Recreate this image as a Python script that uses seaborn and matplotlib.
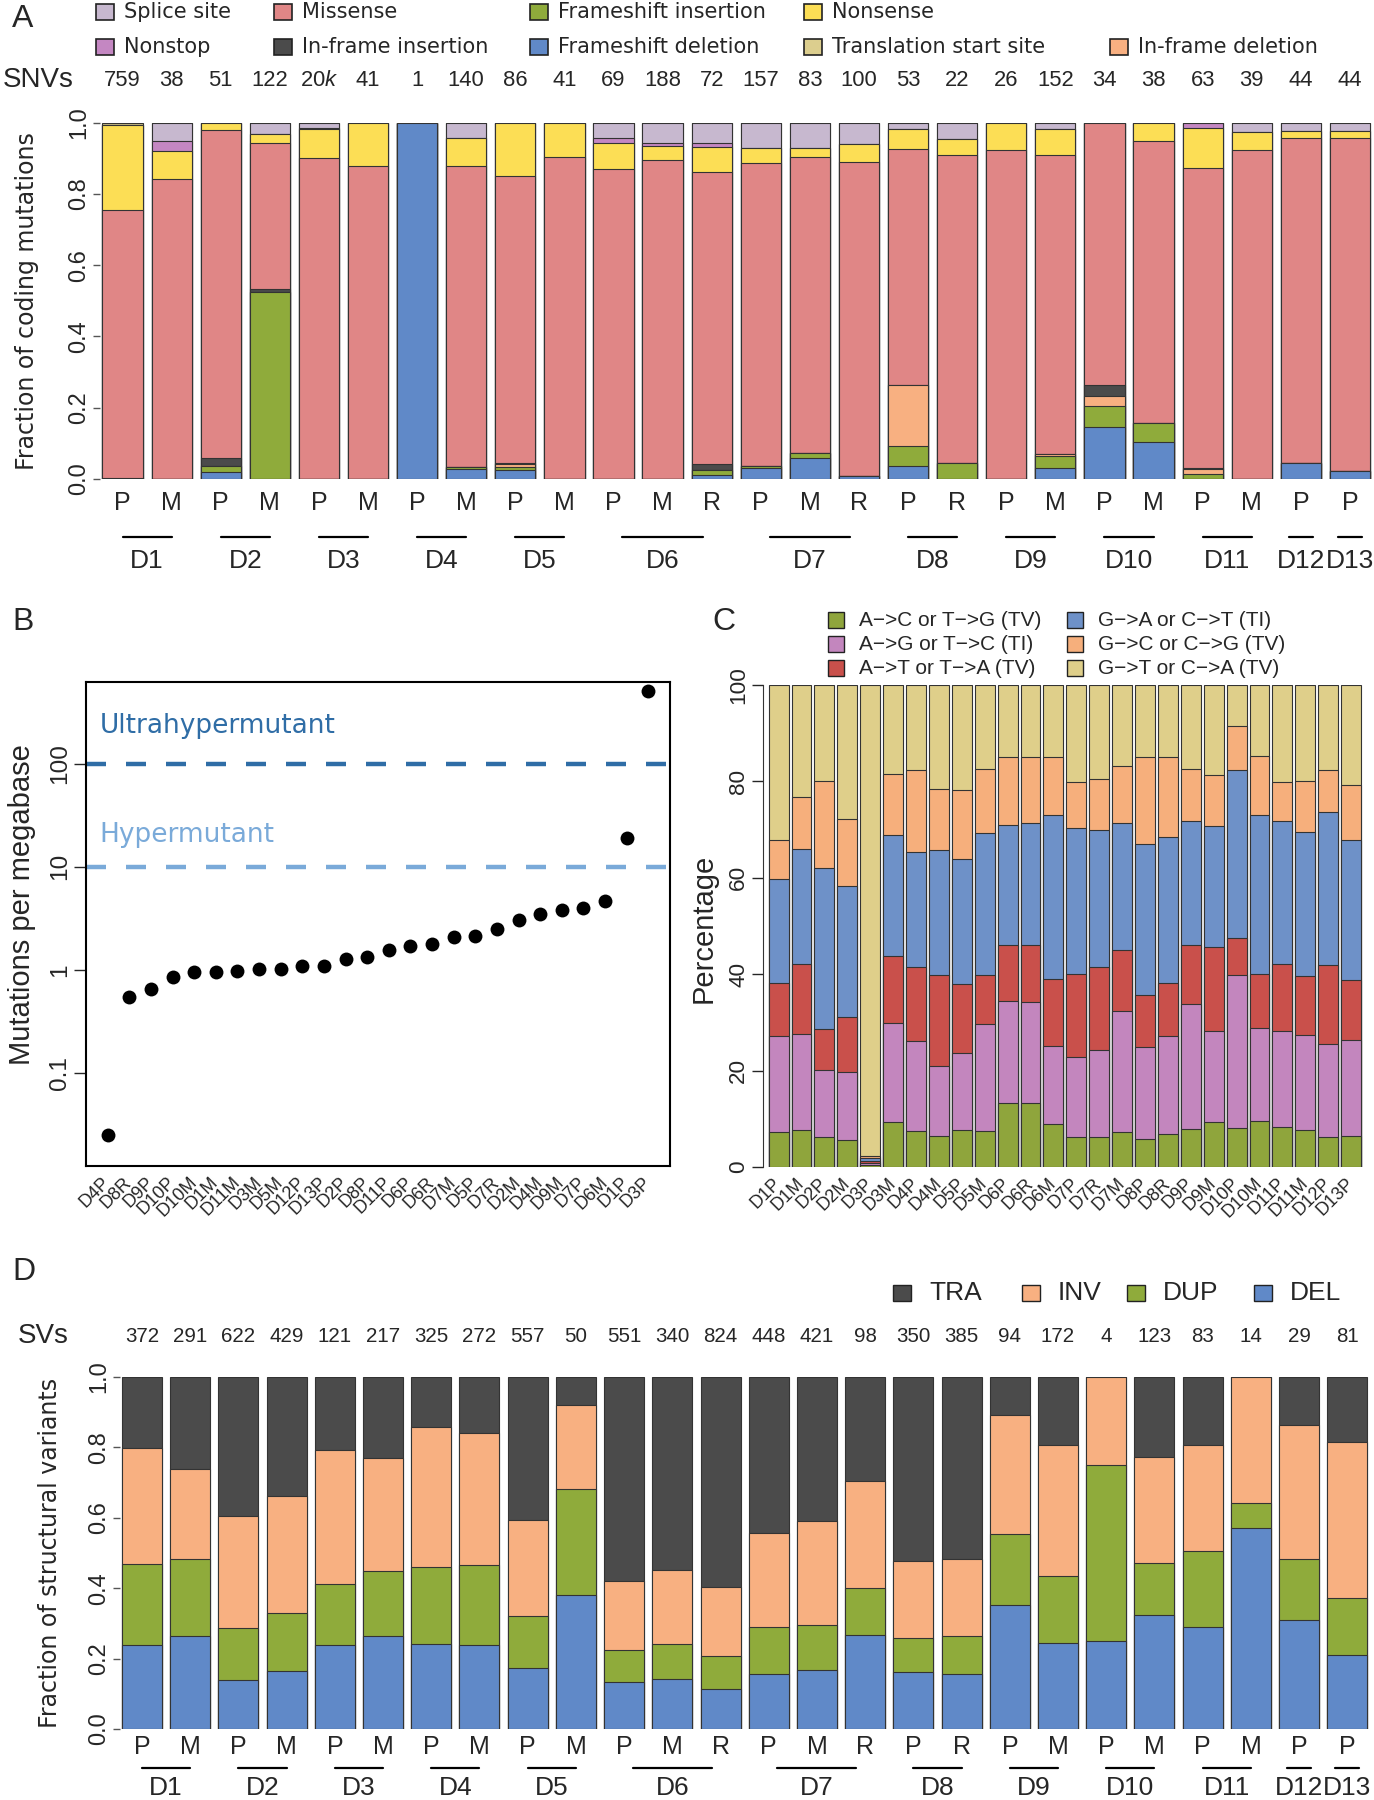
import numpy as np
import pandas as pd
import matplotlib
matplotlib.use("Agg")
import matplotlib.pyplot as plt
import seaborn as sns
import matplotlib.font_manager as fm
from matplotlib import transforms as mtrans
from matplotlib.patches import Rectangle
from matplotlib.lines import Line2D
from matplotlib.ticker import NullLocator
from itertools import groupby

# ---------------- Panel A data ----------------
donors_A = ["D1", "D1", "D2", "D2", "D3", "D3", "D4", "D4", "D5", "D5", "D6", "D6", "D6",
            "D7", "D7", "D7", "D8", "D8", "D9", "D9", "D10", "D10", "D11", "D11", "D12", "D13"]
types_A = ["P", "M", "P", "M", "P", "M", "P", "M", "P", "M", "P", "M", "R",
           "P", "M", "R", "P", "R", "P", "M", "P", "M", "P", "M", "P", "P"]
snv_counts = ["759", "38", "51", "122", "20k", "41", "1", "140", "86", "41", "69", "188", "72",
              "157", "83", "100", "53", "22", "26", "152", "34", "38", "63", "39", "44", "44"]

fs_del = [0, 0, 0.019, 0, 0, 0, 1.0, 0.028, 0.025, 0, 0, 0, 0.011,
          0.030, 0.058, 0.009, 0.037, 0, 0, 0.032, 0.147, 0.105, 0, 0, 0.046, 0.023]
fs_ins = [0, 0, 0.018, 0.524, 0, 0, 0, 0.007, 0.009, 0, 0, 0, 0.014,
          0.007, 0.014, 0, 0.057, 0.046, 0, 0.033, 0.058, 0.053, 0.015, 0, 0, 0]
if_del = [0, 0, 0, 0, 0, 0, 0, 0, 0.008, 0, 0, 0, 0,
          0, 0, 0, 0.170, 0, 0, 0.006, 0.029, 0, 0.013, 0, 0, 0]
if_ins = [0.003, 0, 0.021, 0.010, 0, 0, 0, 0, 0.004, 0, 0, 0, 0.016,
          0, 0, 0, 0, 0, 0, 0, 0.030, 0, 0.003, 0, 0, 0]
missense = [0.751, 0.842, 0.922, 0.410, 0.902, 0.878, 0, 0.844, 0.804, 0.904, 0.871, 0.894, 0.821,
            0.849, 0.833, 0.882, 0.661, 0.863, 0.923, 0.837, 0.736, 0.791, 0.843, 0.924, 0.910, 0.933]
nonsense = [0.239, 0.078, 0.020, 0.024, 0.079, 0.122, 0, 0.079, 0.150, 0.096, 0.071, 0.041, 0.069,
            0.044, 0.023, 0.050, 0.057, 0.045, 0.077, 0.073, 0, 0.051, 0.110, 0.051, 0.022, 0.022]
nonstop = [0, 0.028, 0, 0, 0.003, 0, 0, 0, 0, 0, 0.014, 0.009, 0.013,
           0, 0, 0, 0, 0, 0, 0, 0, 0, 0.016, 0, 0, 0]
splice = [0, 0.052, 0, 0.032, 0.016, 0, 0, 0.042, 0, 0, 0.044, 0.056, 0.056,
          0.070, 0.072, 0.059, 0.018, 0.046, 0, 0.019, 0, 0, 0, 0.025, 0.022, 0.022]
tss = [0.007, 0, 0, 0, 0, 0, 0, 0, 0, 0, 0, 0, 0,
       0, 0, 0, 0, 0, 0, 0, 0, 0, 0, 0, 0, 0]

mut_names = ["Frameshift deletion", "Frameshift insertion", "In-frame deletion", "In-frame insertion",
             "Missense", "Nonsense", "Nonstop", "Splice site", "Translation start site"]
mut_values = [fs_del, fs_ins, if_del, if_ins, missense, nonsense, nonstop, splice, tss]
mut_colors = {
    "Splice site": "#C7B8CF", "Missense": "#E08686", "Frameshift insertion": "#8FAB3B",
    "Nonsense": "#FCDE55", "Nonstop": "#C487C2", "In-frame insertion": "#4B4B4B",
    "Frameshift deletion": "#6089C8", "Translation start site": "#DCCE8E",
    "In-frame deletion": "#F8B081",
}
legend_A_rows = [["Splice site", "Missense", "Frameshift insertion", "Nonsense"],
                 ["Nonstop", "In-frame insertion", "Frameshift deletion", "Translation start site",
                  "In-frame deletion"]]

# ---------------- Panel B data ----------------
rate_labels = ["D4P", "D8R", "D9P", "D10P", "D10M", "D1M", "D11M", "D3M", "D5M", "D12P", "D13P",
               "D2P", "D8P", "D11P", "D6P", "D6R", "D7M", "D5P", "D7R", "D2M", "D4M", "D9M",
               "D7P", "D6M", "D1P", "D3P"]
rate_values = [0.025, 0.55, 0.645, 0.853, 0.946, 0.946, 0.97, 1.02, 1.02, 1.10, 1.10,
               1.27, 1.33, 1.57, 1.72, 1.80, 2.07, 2.15, 2.50, 3.05, 3.49, 3.78,
               3.97, 4.69, 19.1, 512]
thresholds = [100, 10]
threshold_names = ["Ultrahypermutant", "Hypermutant"]
threshold_colors = ["#2F6DA6", "#7AAAD9"]

# ---------------- Panel C data ----------------
spectrum_samples = ["D1P", "D1M", "D2P", "D2M", "D3P", "D3M", "D4P", "D4M", "D5P", "D5M", "D6P", "D6R",
                    "D6M", "D7P", "D7R", "D7M", "D8P", "D8R", "D9P", "D9M", "D10P", "D10M", "D11P",
                    "D11M", "D12P", "D13P"]
ac_tg = [7.2, 7.7, 6.3, 5.7, 0.4, 9.3, 7.4, 6.5, 7.7, 7.4, 13.2, 13.2, 9.0,
         6.3, 6.3, 7.3, 5.8, 6.8, 7.9, 9.3, 8.1, 9.6, 8.2, 7.7, 6.3, 6.5]
ag_tc = [20.0, 19.8, 13.8, 14.0, 0.5, 20.6, 18.8, 14.4, 15.9, 22.3, 21.2, 21.0, 16.1,
         16.5, 18.0, 25.1, 19.1, 20.4, 25.9, 18.9, 31.8, 19.3, 20.0, 19.7, 19.3, 19.8]
at_ta = [10.9, 14.6, 8.6, 11.4, 0.4, 13.9, 15.2, 19.0, 14.3, 10.2, 11.7, 11.8, 13.9,
         17.3, 17.2, 12.7, 10.8, 10.9, 12.2, 17.5, 7.7, 11.2, 13.9, 12.3, 16.4, 12.5]
ga_ct = [21.7, 23.9, 33.3, 27.2, 0.6, 25.0, 24.0, 25.8, 25.9, 29.3, 24.9, 25.3, 34.1,
         30.2, 28.4, 26.3, 31.4, 30.4, 25.8, 25.1, 34.8, 32.9, 29.7, 29.8, 31.7, 29.1]
gc_cg = [8.0, 10.8, 18.1, 13.8, 0.3, 12.7, 17.0, 12.7, 14.5, 13.4, 14.0, 13.8, 12.0,
         9.6, 10.5, 11.8, 18.0, 16.6, 10.8, 10.6, 9.1, 12.2, 8.1, 10.6, 8.7, 11.3]
gt_ca = [32.2, 23.2, 19.9, 27.9, 97.8, 18.5, 17.6, 21.6, 21.7, 17.4, 15.0, 14.9, 14.9,
         20.1, 19.6, 16.8, 14.9, 14.9, 17.4, 18.6, 8.5, 14.8, 20.1, 19.9, 17.6, 20.8]
spec_names = ["A\u2212>C or T\u2212>G (TV)", "A\u2212>G or T\u2212>C (TI)", "A\u2212>T or T\u2212>A (TV)",
              "G\u2212>A or C\u2212>T (TI)", "G\u2212>C or C\u2212>G (TV)", "G\u2212>T or C\u2212>A (TV)"]
spec_values = [ac_tg, ag_tc, at_ta, ga_ct, gc_cg, gt_ca]
spec_colors = ["#8FA53C", "#C386BE", "#C9504B", "#6E91C8", "#F6AF7C", "#DFCF8A"]

# ---------------- Panel D data ----------------
sv_counts = ["372", "291", "622", "429", "121", "217", "325", "272", "557", "50", "551", "340", "824",
             "448", "421", "98", "350", "385", "94", "172", "4", "123", "83", "14", "29", "81"]
sv_del = [0.240, 0.265, 0.140, 0.166, 0.240, 0.264, 0.242, 0.240, 0.174, 0.381, 0.133, 0.142, 0.114,
          0.155, 0.169, 0.266, 0.161, 0.157, 0.352, 0.245, 0.250, 0.325, 0.290, 0.571, 0.311, 0.210]
sv_dup = [0.230, 0.219, 0.147, 0.164, 0.172, 0.184, 0.218, 0.227, 0.146, 0.300, 0.091, 0.100, 0.093,
          0.134, 0.127, 0.134, 0.097, 0.106, 0.202, 0.191, 0.500, 0.147, 0.216, 0.072, 0.172, 0.162]
sv_inv = [0.328, 0.256, 0.318, 0.332, 0.382, 0.322, 0.398, 0.375, 0.275, 0.239, 0.196, 0.209, 0.197,
          0.268, 0.296, 0.305, 0.220, 0.220, 0.339, 0.372, 0.250, 0.301, 0.301, 0.357, 0.380, 0.443]
sv_tra = [0.202, 0.260, 0.395, 0.338, 0.206, 0.230, 0.142, 0.158, 0.405, 0.080, 0.580, 0.549, 0.596,
          0.443, 0.408, 0.295, 0.522, 0.517, 0.107, 0.192, 0.0, 0.227, 0.193, 0.0, 0.137, 0.185]
sv_names = ["DEL", "DUP", "INV", "TRA"]
sv_values = [sv_del, sv_dup, sv_inv, sv_tra]
sv_colors = {"TRA": "#4B4B4B", "INV": "#F8B081", "DUP": "#8FAB3B", "DEL": "#6089C8"}
sv_legend_order = ["TRA", "INV", "DUP", "DEL"]

# ---------------- style ----------------
sns.set_style("ticks")
plt.rcParams["font.family"] = ["Liberation Sans", "DejaVu Sans"]
plt.rcParams["mathtext.fontset"] = "custom"
plt.rcParams["mathtext.rm"] = "Liberation Sans"
plt.rcParams["mathtext.it"] = "Liberation Sans:italic"
_avail = {f.name for f in fm.fontManager.ttflist}
HAS_NARROW = "Liberation Sans Narrow" in _avail
NARROW = "Liberation Sans Narrow" if HAS_NARROW else "Liberation Sans"


def nz(sz):
    return sz if HAS_NARROW else round(sz * 0.9, 1)


EDGE = "#333333"
W, H = 1374, 1800
fig = plt.figure(figsize=(W / 100, H / 100), dpi=100)


def fx(px):
    return px / W


def fy(py):
    return 1 - py / H


def axrect(l, t, r, b):
    return [fx(l), fy(b), (r - l) / W, (b - t) / H]


def stacked(ax, cats, layer_vals, colors, width, lw=0.8):
    cum = np.zeros(len(cats))
    tops = []
    for v in layer_vals:
        cum = cum + np.asarray(v, float)
        tops.append(cum.copy())
    for top, col in reversed(list(zip(tops, colors))):
        df = pd.DataFrame({"sample": cats, "top": top})
        sns.barplot(data=df, x="sample", y="top", order=cats, color=col, width=width,
                    saturation=1, errorbar=None, edgecolor=EDGE, linewidth=lw, ax=ax)
    ax.set_xlabel("")
    ax.set_ylabel("")


def group_axis(ax, donors, types, y_type, y_line, y_donor, fs_type, fs_donor):
    tr = mtrans.blended_transform_factory(ax.transData, fig.transFigure)
    for i, t in enumerate(types):
        fig.text(i, fy(y_type), t, transform=tr, ha="center", va="center",
                 fontsize=fs_type, family=NARROW)
    idx = 0
    half = {1: 0.25, 2: 0.5, 3: 0.82}
    for d, grp in groupby(donors):
        n = len(list(grp))
        mid = idx + (n - 1) / 2
        h = half[n]
        fig.add_artist(Line2D([mid - h, mid + h], [fy(y_line), fy(y_line)], transform=tr,
                              color="black", lw=1.6))
        fig.text(mid, fy(y_donor), d, transform=tr, ha="center", va="center",
                 fontsize=fs_donor, family=NARROW)
        idx += n


def frac_yaxis(ax):
    ax.set_ylim(0, 1)
    ax.set_yticks([0, 0.2, 0.4, 0.6, 0.8, 1.0])
    ax.set_yticklabels(["0.0", "0.2", "0.4", "0.6", "0.8", "1.0"], rotation=90, va="center",
                       family=NARROW)
    ax.tick_params(axis="y", length=5, width=1, color="#555555", pad=2, labelsize=17)
    ax.set_xticks([])
    for s in ax.spines.values():
        s.set_visible(False)


# ================= Panel A =================
samples_A = [d + t for d, t in zip(donors_A, types_A)]
axA = fig.add_axes(axrect(100, 122.7, 1372, 479))
stacked(axA, samples_A, mut_values, [mut_colors[n] for n in mut_names], 0.82)
axA.set_xlim(-0.46, 25.45)
frac_yaxis(axA)
fig.text(fx(27), fy(301), "Fraction of coding mutations", rotation=90, ha="center", va="center",
         fontsize=17, family="DejaVu Sans")
group_axis(axA, donors_A, types_A, 503, 537, 561, 18, 19)

trA = mtrans.blended_transform_factory(axA.transData, fig.transFigure)
fig.text(fx(3), fy(80), "SNVs", ha="left", va="center", fontsize=20)
for i, c in enumerate(snv_counts):
    lab = c if not c.endswith("k") else c[:-1] + r"$\mathit{k}$"
    fig.text(i, fy(80), lab, transform=trA, ha="center", va="center", fontsize=nz(17.5), family=NARROW)

fig.text(fx(12), fy(19), "A", ha="left", va="center", fontsize=23)
col_x = [96, 274, 530, 804, 1110]
row_y = [12, 47]
for r, row in enumerate(legend_A_rows):
    for c, name in enumerate(row):
        fig.patches.append(Rectangle((fx(col_x[c]), fy(row_y[r] + 8)), 18 / W, 16 / H,
                                     transform=fig.transFigure, facecolor=mut_colors[name],
                                     edgecolor="#222222", lw=1.2))
        fig.text(fx(col_x[c] + 28), fy(row_y[r]), name, ha="left", va="center", fontsize=15,
                 family="DejaVu Sans")

# ================= Panel B =================
axB = fig.add_axes(axrect(86, 682, 670, 1166))
x_pos = np.arange(1, len(rate_values) + 1)
sns.scatterplot(x=x_pos, y=rate_values, color="black", s=100, linewidth=0, ax=axB, zorder=3)
axB.set_yscale("log")
axB.set_ylim(0.0125, 620)
axB.set_xlim(0, 27)
for yv, name, col in zip(thresholds, threshold_names, threshold_colors):
    axB.axhline(yv, color=col, lw=3.2, dashes=(4.5, 4.5), zorder=2)
axB.text(0.64, 234, threshold_names[0], color=threshold_colors[0], fontsize=19,
         family="DejaVu Sans", va="center", ha="left")
axB.text(0.64, 20.5, threshold_names[1], color=threshold_colors[1], fontsize=19,
         family="DejaVu Sans", va="center", ha="left")
axB.set_yticks([0.1, 1, 10, 100])
axB.set_yticklabels(["0.1", "1", "10", "100"], rotation=90, va="center", family=NARROW)
axB.yaxis.set_minor_locator(NullLocator())
axB.tick_params(axis="y", length=9, width=1, pad=2, labelsize=nz(19.5))
axB.set_xticks(x_pos)
axB.set_xticklabels(rate_labels, rotation=45, ha="right", va="center", rotation_mode="anchor",
                    family=NARROW)
axB.tick_params(axis="x", length=0, pad=10, labelsize=nz(14.5))
for s in axB.spines.values():
    s.set_visible(True)
    s.set_linewidth(1.5)
    s.set_color("black")
axB.set_xlabel("")
axB.set_ylabel("")
fig.text(fx(22), fy(905), "Mutations per megabase", rotation=90, ha="center", va="center", fontsize=21)
fig.text(fx(12), fy(622), "B", ha="left", va="center", fontsize=23)

# ================= Panel C =================
axC = fig.add_axes(axrect(763, 685, 1366, 1167))
stacked(axC, spectrum_samples, spec_values, spec_colors, 0.87)
axC.set_xlim(-0.68, 25.65)
axC.set_ylim(0, 100)
axC.set_yticks([0, 20, 40, 60, 80, 100])
axC.set_yticklabels(["0", "20", "40", "60", "80", "100"], rotation=90, va="center", family=NARROW)
axC.tick_params(axis="y", length=8, width=1, pad=2, labelsize=nz(18))
axC.set_xticks(range(len(spectrum_samples)))
axC.set_xticklabels(spectrum_samples, rotation=45, ha="right", va="center", rotation_mode="anchor",
                    family=NARROW)
axC.tick_params(axis="x", length=0, pad=10, labelsize=nz(14.5))
for k, s in axC.spines.items():
    s.set_visible(k == "left")
axC.spines["left"].set_bounds(0, 100)
axC.spines["left"].set_color("#333333")
fig.text(fx(704), fy(928), "Percentage", rotation=90, ha="center", va="center", fontsize=21)
fig.text(fx(712), fy(622), "C", ha="left", va="center", fontsize=23)
for j, (name, col) in enumerate(zip(spec_names, spec_colors)):
    cx = [828, 1067][j // 3]
    ry = [620, 644, 668][j % 3]
    fig.patches.append(Rectangle((fx(cx), fy(ry + 8)), 16 / W, 16 / H, transform=fig.transFigure,
                                 facecolor=col, edgecolor="#222222", lw=1.0))
    fig.text(fx(cx + 31), fy(ry), name, ha="left", va="center", fontsize=15)

# ================= Panel D =================
axD = fig.add_axes(axrect(120, 1377, 1369, 1729))
stacked(axD, samples_A, sv_values, [sv_colors[n] for n in sv_names], 0.83)
axD.set_xlim(-0.456, 25.45)
frac_yaxis(axD)
fig.text(fx(50), fy(1553), "Fraction of structural variants", rotation=90, ha="center", va="center",
         fontsize=17, family="DejaVu Sans")
group_axis(axD, donors_A, types_A, 1747, 1768, 1788, 18, 19)
trD = mtrans.blended_transform_factory(axD.transData, fig.transFigure)
fig.text(fx(18), fy(1336), "SVs", ha="left", va="center", fontsize=20)
for i, c in enumerate(sv_counts):
    fig.text(i, fy(1336), c, transform=trD, ha="center", va="center", fontsize=nz(16.5), family=NARROW)
fig.text(fx(12), fy(1272), "D", ha="left", va="center", fontsize=23)
leg_box_x = [893, 1022, 1127, 1254]
for bx, name in zip(leg_box_x, sv_legend_order):
    fig.patches.append(Rectangle((fx(bx), fy(1293 + 8)), 18 / W, 16 / H, transform=fig.transFigure,
                                 facecolor=sv_colors[name], edgecolor="#222222", lw=1.0))
    fig.text(fx(bx + 36), fy(1293), name, ha="left", va="center", fontsize=19)

fig.savefig("out.png", dpi=100)
